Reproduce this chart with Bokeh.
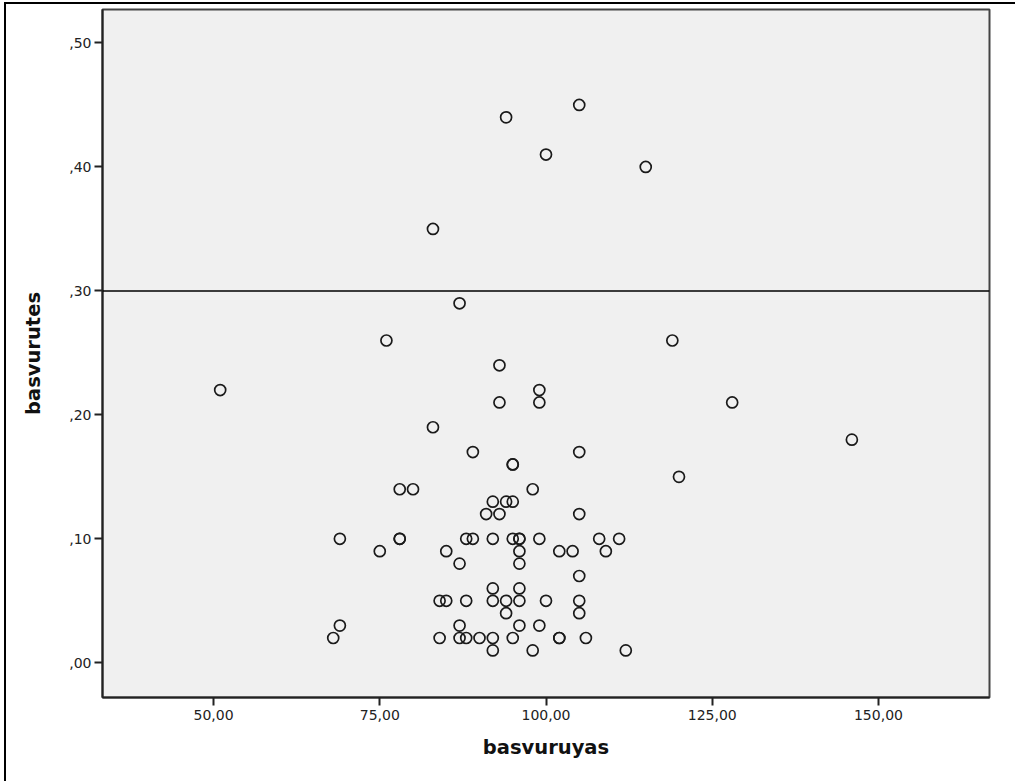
from bokeh.plotting import figure
from bokeh.models import Range1d, FixedTicker, Span
from bokeh.embed import file_html
from bokeh.resources import INLINE

# Data (basvuruyas vs basvurutes)
basvuruyas = [94, 105, 100, 115, 83, 87, 76, 119, 93, 51, 128, 146, 120,
              99, 93, 99, 83, 89, 105, 95, 95, 78, 80, 98, 92, 94, 95, 91, 93, 105,
              69, 78, 78, 88, 89, 92, 95, 96, 96, 99, 108, 111,
              75, 85, 96, 102, 104, 109,
              87, 96, 105, 92, 96,
              84, 85, 88, 92, 94, 96, 100, 105,
              94, 105,
              69, 87, 96, 99,
              68, 84, 87, 88, 90, 92, 95, 102, 102, 106,
              92, 98, 112]
basvurutes = [0.44, 0.45, 0.41, 0.40, 0.35, 0.29, 0.26, 0.26, 0.24, 0.22, 0.21, 0.18, 0.15,
              0.22, 0.21, 0.21, 0.19, 0.17, 0.17, 0.16, 0.16, 0.14, 0.14, 0.14, 0.13, 0.13, 0.13, 0.12, 0.12, 0.12,
              0.10, 0.10, 0.10, 0.10, 0.10, 0.10, 0.10, 0.10, 0.10, 0.10, 0.10, 0.10,
              0.09, 0.09, 0.09, 0.09, 0.09, 0.09,
              0.08, 0.08, 0.07, 0.06, 0.06,
              0.05, 0.05, 0.05, 0.05, 0.05, 0.05, 0.05, 0.05,
              0.04, 0.04,
              0.03, 0.03, 0.03, 0.03,
              0.02, 0.02, 0.02, 0.02, 0.02, 0.02, 0.02, 0.02, 0.02, 0.02,
              0.01, 0.01, 0.01]

x_ticks = [50, 75, 100, 125, 150]
x_tick_labels = ["50,00", "75,00", "100,00", "125,00", "150,00"]
y_ticks = [0.0, 0.1, 0.2, 0.3, 0.4, 0.5]
y_tick_labels = [",00", ",10", ",20", ",30", ",40", ",50"]
reference_line = 0.30

p = figure(width=1011, height=779, output_backend="svg", toolbar_location=None,
           x_range=Range1d(33.3, 166.7), y_range=Range1d(-0.028, 0.527),
           min_border_left=96, min_border_right=28, min_border_top=5, min_border_bottom=86)
p.styles = {"margin-left": "4px", "margin-top": "2px",
            "border-left": "2px solid black", "border-top": "2px solid black"}

p.background_fill_color = "#F0F0F0"
p.border_fill_color = "white"
p.outline_line_color = "#444444"
p.outline_line_width = 2
p.grid.visible = False

for ax in (p.xaxis, p.yaxis):
    ax.axis_line_color = "#222222"
    ax.axis_line_width = 2
    ax.major_tick_line_color = "#222222"
    ax.major_tick_line_width = 2
    ax.major_tick_out = 8
    ax.major_tick_in = 0
    ax.minor_tick_line_color = None
    ax.major_label_text_font = "DejaVu Sans"
    ax.major_label_text_font_size = "14px"
    ax.major_label_text_color = "#222222"
    ax.axis_label_text_font = "DejaVu Sans"
    ax.axis_label_text_font_style = "bold"
    ax.axis_label_text_font_size = "19.5px"
    ax.axis_label_text_color = "#111111"

p.xaxis.ticker = FixedTicker(ticks=x_ticks)
p.xaxis.major_label_overrides = {t: l for t, l in zip(x_ticks, x_tick_labels)}
p.yaxis.ticker = FixedTicker(ticks=y_ticks)
p.yaxis.major_label_overrides = {t: l for t, l in zip(y_ticks, y_tick_labels)}
p.xaxis.axis_label = "basvuruyas"
p.yaxis.axis_label = "basvurutes"
p.xaxis.major_label_standoff = 4
p.yaxis.major_label_standoff = 3
p.xaxis.axis_label_standoff = 13
p.yaxis.axis_label_standoff = 21

p.add_layout(Span(location=reference_line, dimension="width", line_color="black", line_width=1.5))

p.scatter(basvuruyas, basvurutes, marker="circle", size=11, fill_color=None,
          line_color="#1a1a1a", line_width=1.7)

open("out.html", "w").write(file_html(p, INLINE))
